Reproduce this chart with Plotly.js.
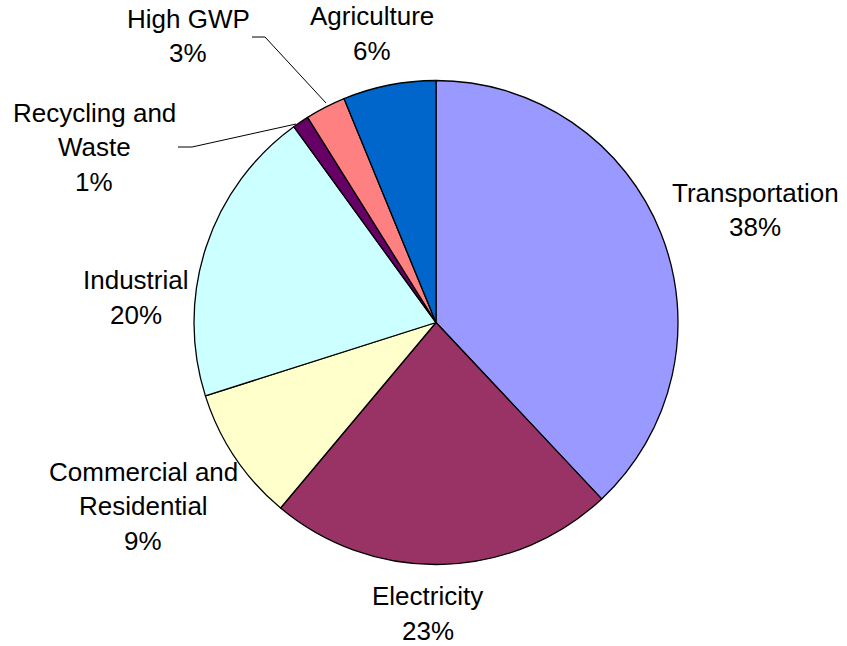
<!DOCTYPE html>
<html>
<head>
<meta charset="utf-8">
<script src="https://cdn.plot.ly/plotly-3.0.1.min.js"></script>
<style>html,body{margin:0;padding:0;background:#fff;}#chart{width:847px;height:646px;}</style>
</head>
<body>
<div id="chart"></div>
<script>
// ---- data ----
var categories = ["Transportation", "Electricity", "Commercial and Residential", "Industrial", "Recycling and Waste", "High GWP", "Agriculture"];
var values = [38.0, 23.1, 9.0, 19.9, 1.1, 2.7, 6.2];
var labelLines = [["Transportation"], ["Electricity"], ["Commercial and", "Residential"], ["Industrial"], ["Recycling and", "Waste"], ["High GWP"], ["Agriculture"]];
var colors = ["#9999FF", "#993366", "#FFFFCC", "#CCFFFF", "#660066", "#FF8080", "#0066CC"];

// ---- layout (pixel positions of label blocks: centre x, first-line centre y) ----
var W = 847, H = 646;
var labelPos = [[755, 192.5], [427.5, 596], [143, 472], [136, 280], [94, 112.5], [188, 18.5], [372, 16.5]];
var pitch = 34.5;
var cx = 436, cy = 322.5, R = 242;

function px(x) { return x / W; }
function py(y) { return 1 - y / H; }

var total = values.reduce(function (a, b) { return a + b; }, 0);
var annotations = [];
for (var i = 0; i < categories.length; i++) {
  var lines = labelLines[i].concat([Math.round(values[i] / total * 100) + "%"]);
  for (var j = 0; j < lines.length; j++) {
    annotations.push({
      xref: "paper", yref: "paper",
      x: px(labelPos[i][0]), y: py(labelPos[i][1] + j * pitch),
      xanchor: "center", yanchor: "middle",
      text: lines[j], showarrow: false,
      font: {family: "Liberation Sans, Arial, sans-serif", size: 26, color: "#000"}
    });
  }
}

// leader lines (High GWP, Recycling and Waste)
function leader(pts) {
  var d = "";
  pts.forEach(function (p, k) { d += (k ? " L " : "M ") + px(p[0]) + " " + py(p[1]); });
  return {type: "path", xref: "paper", yref: "paper", path: d, line: {color: "#000", width: 1}};
}
var shapes = [
  leader([[252, 37], [265, 37], [326, 103]]),
  leader([[178, 147], [192, 147], [296, 124]])
];

var trace = {
  type: "pie",
  labels: categories,
  values: values,
  sort: false,
  direction: "clockwise",
  rotation: 0,
  textinfo: "none",
  hoverinfo: "none",
  marker: {colors: colors, line: {color: "#000", width: 1.3}},
  domain: {x: [px(cx - R), px(cx + R)], y: [py(cy + R), py(cy - R)]},
  showlegend: false
};

var layout = {
  width: W, height: H,
  margin: {l: 0, r: 0, t: 0, b: 0},
  paper_bgcolor: "#fff",
  showlegend: false,
  annotations: annotations,
  shapes: shapes
};

Plotly.newPlot("chart", [trace], layout, {staticPlot: true, displayModeBar: false});
</script>
</body>
</html>
